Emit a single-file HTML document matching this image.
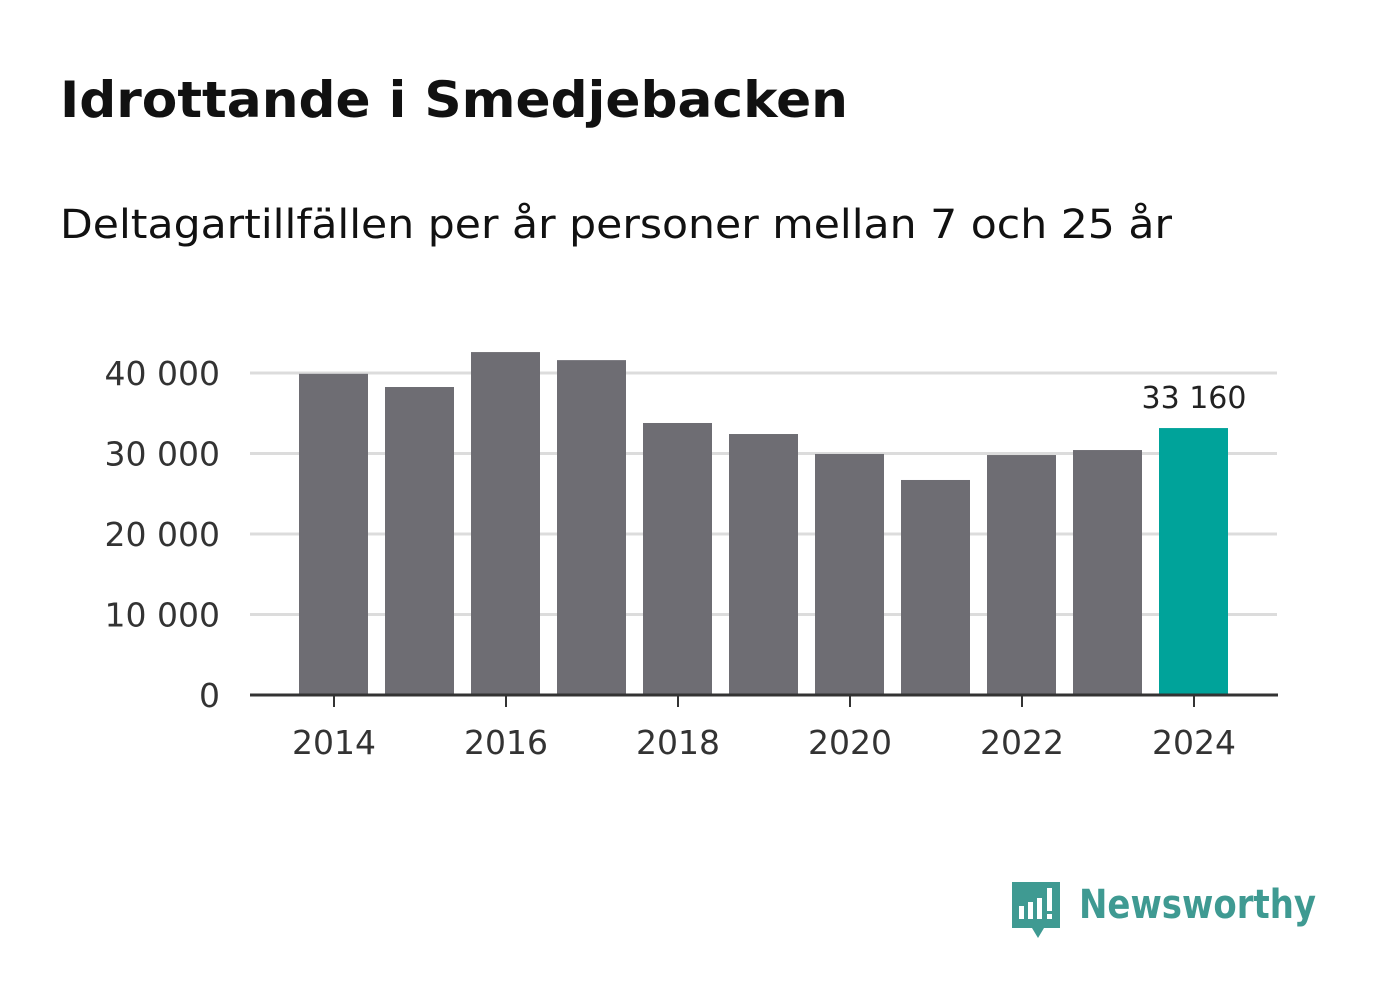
<!DOCTYPE html>
<html><head><meta charset="utf-8"><style>
body{margin:0;background:#fff;width:1382px;height:999px;overflow:hidden;font-family:"DejaVu Sans","Liberation Sans",sans-serif}
</style></head><body>
<svg width="1382" height="999" xmlns="http://www.w3.org/2000/svg">
<text x="60" y="117" font-size="50" font-weight="bold" fill="#111" textLength="788" lengthAdjust="spacingAndGlyphs">Idrottande i Smedjebacken</text>
<text x="60" y="238" font-size="40" fill="#111" textLength="1112" lengthAdjust="spacingAndGlyphs">Deltagartillfällen per år personer mellan 7 och 25 år</text>
<g id="grid"></g><g id="bars"></g><g id="axes"></g>
<g>
<path d="M1012 882 h48 v46 h-16 l-6 10 l-6 -10 h-20 z" fill="#3f9a92"/>
<rect x="1019" y="906" width="5" height="13" fill="#fff"/><rect x="1028" y="902" width="5" height="17" fill="#fff"/><rect x="1037" y="898" width="5" height="21" fill="#fff"/><rect x="1047" y="888" width="5" height="23" fill="#fff"/><rect x="1047" y="914" width="5" height="5" fill="#fff"/>
<text x="1079" y="918" font-size="40" font-weight="bold" fill="#3f9a92" textLength="237" lengthAdjust="spacingAndGlyphs">Newsworthy</text>
</g>
</svg>
<script>
const years=[2014,2015,2016,2017,2018,2019,2020,2021,2022,2023,2024];
const values=[39900,38260,42600,41600,33790,32420,29940,26710,29810,30430,33160];
const yTicks=[0,10000,20000,30000,40000];
const xTicks=[2014,2016,2018,2020,2022,2024];
const NS="http://www.w3.org/2000/svg";
const y0=695,pxPer=322/40000;
const yS=v=>y0-v*pxPer;
const xS=yr=>334+(yr-2014)*86;
const fmt=v=>String(v).replace(/\B(?=(\d{3})+(?!\d))/g," ");
function mk(t,a,p){const e=document.createElementNS(NS,t);for(const k in a)e.setAttribute(k,a[k]);p.appendChild(e);return e;}
const grid=document.getElementById('grid'),bars=document.getElementById('bars'),axes=document.getElementById('axes');
yTicks.forEach(v=>{
 if(v>0){const l=mk('line',{x1:250,x2:1277,y1:yS(v),y2:yS(v),stroke:'#dcdcdc','stroke-width':3},grid);
 
 }
 const t=mk('text',{x:220,y:yS(v)+12,'font-size':33,fill:'#333','text-anchor':'end'},axes);t.textContent=fmt(v);
 
 
});
years.forEach((yr,i)=>{
 const last=i===years.length-1;
 const r=mk('rect',{x:xS(yr)-35,y:yS(values[i]),width:69,height:y0-yS(values[i]),fill:last?'#00a39a':'#6e6d73'},bars);
 
 
 if(last){const t=mk('text',{x:xS(yr),y:yS(values[i])-20,'font-size':30,fill:'#222','text-anchor':'middle'},bars);t.textContent=fmt(values[i]);
 
 }
});
const ax=mk('line',{x1:250,x2:1278,y1:y0,y2:y0,stroke:'#333','stroke-width':3},axes);


xTicks.forEach(yr=>{
 const tk=mk('line',{x1:xS(yr),x2:xS(yr),y1:y0,y2:y0+12,stroke:'#333','stroke-width':2},axes);
 
 
 const t=mk('text',{x:xS(yr),y:754,'font-size':33,fill:'#333','text-anchor':'middle'},axes);t.textContent=yr;
 
 
});
</script>
</body></html>
